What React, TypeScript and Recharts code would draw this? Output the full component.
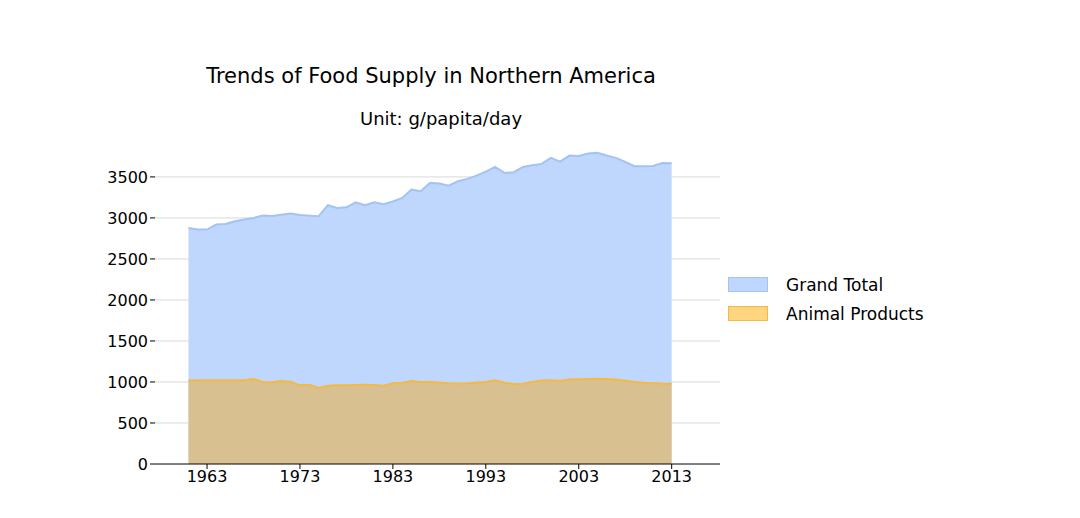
import React from 'react';
import { AreaChart, Area, XAxis, YAxis, CartesianGrid } from 'recharts';

const years = Array.from({ length: 53 }, (_, i) => 1961 + i);
const grandTotal = [2878,2858,2858,2919,2927,2960,2980,3000,3028,3024,3040,3053,3037,3028,3020,3155,3122,3130,3191,3155,3191,3167,3200,3244,3346,3325,3427,3419,3394,3447,3476,3516,3565,3622,3549,3557,3622,3642,3659,3732,3687,3760,3756,3785,3793,3760,3732,3683,3630,3630,3634,3670,3667];
const animal = [1020,1018,1020,1022,1020,1020,1022,1037,1000,996,1012,1004,959,967,927,955,959,959,962,967,963,955,984,992,1012,1000,1000,995,985,980,985,995,1000,1020,990,975,978,1000,1018,1020,1015,1030,1032,1035,1038,1035,1030,1015,1000,990,985,980,978];
const xTicks = [1963, 1973, 1983, 1993, 2003, 2013];
const yTicks = [0, 500, 1000, 1500, 2000, 2500, 3000, 3500];
const legendItems = [['Grand Total', '#c0d7fd', '#a4c2f4'], ['Animal Products', '#ffd580', '#f4b942']];

const data = years.map((y, i) => ({ year: y, total: grandTotal[i], animal: animal[i] }));

export default function App() {
  return (
    <div style={{ width: 1080, height: 518, position: 'relative', fontFamily: 'DejaVu Sans', margin: -8 }}>
      <div style={{ position: 'absolute', top: 64, left: 0, width: 862, textAlign: 'center', fontSize: 21 }}>Trends of Food Supply in Northern America</div>
      <div style={{ position: 'absolute', top: 108, left: 0, width: 882, textAlign: 'center', fontSize: 18 }}>Unit: g/papita/day</div>
      <AreaChart width={1080} height={518} data={data} margin={{ top: 140, right: 360, bottom: 24, left: 95 }}>
        <CartesianGrid vertical={false} stroke="#d9d9d9" horizontalValues={yTicks.slice(1)} />
        <XAxis dataKey="year" type="number" domain={[1957.4, 2018.2]} ticks={xTicks} allowDataOverflow
          tick={{ fill: '#000', fontSize: 16 }} tickLine={{ stroke: '#000' }} axisLine={{ stroke: '#000' }} tickSize={5} />
        <YAxis type="number" domain={[0, 3950]} ticks={yTicks} allowDataOverflow width={60}
          tick={{ fill: '#000', fontSize: 16 }} tickLine={{ stroke: '#000' }} axisLine={false} tickSize={5} />
        <Area dataKey="total" name="Grand Total" type="linear" stroke="#a4c2f4" strokeWidth={2} fill="#c0d7fd" fillOpacity={1} isAnimationActive={false} />
        <Area dataKey="animal" name="Animal Products" type="linear" stroke="#f4b942" strokeWidth={2} fill="#e9b04a" fillOpacity={0.6} isAnimationActive={false} />
      </AreaChart>
      <div style={{ position: 'absolute', left: 728, top: 270, fontSize: 17 }}>
        {legendItems.map(([n, f, s]) => (
          <div key={n} style={{ display: 'flex', alignItems: 'center', height: 29 }}>
            <span style={{ width: 38, height: 13, background: f, border: `1px solid ${s}`, marginRight: 18 }} />
            {n}
          </div>
        ))}
      </div>
    </div>
  );
}
